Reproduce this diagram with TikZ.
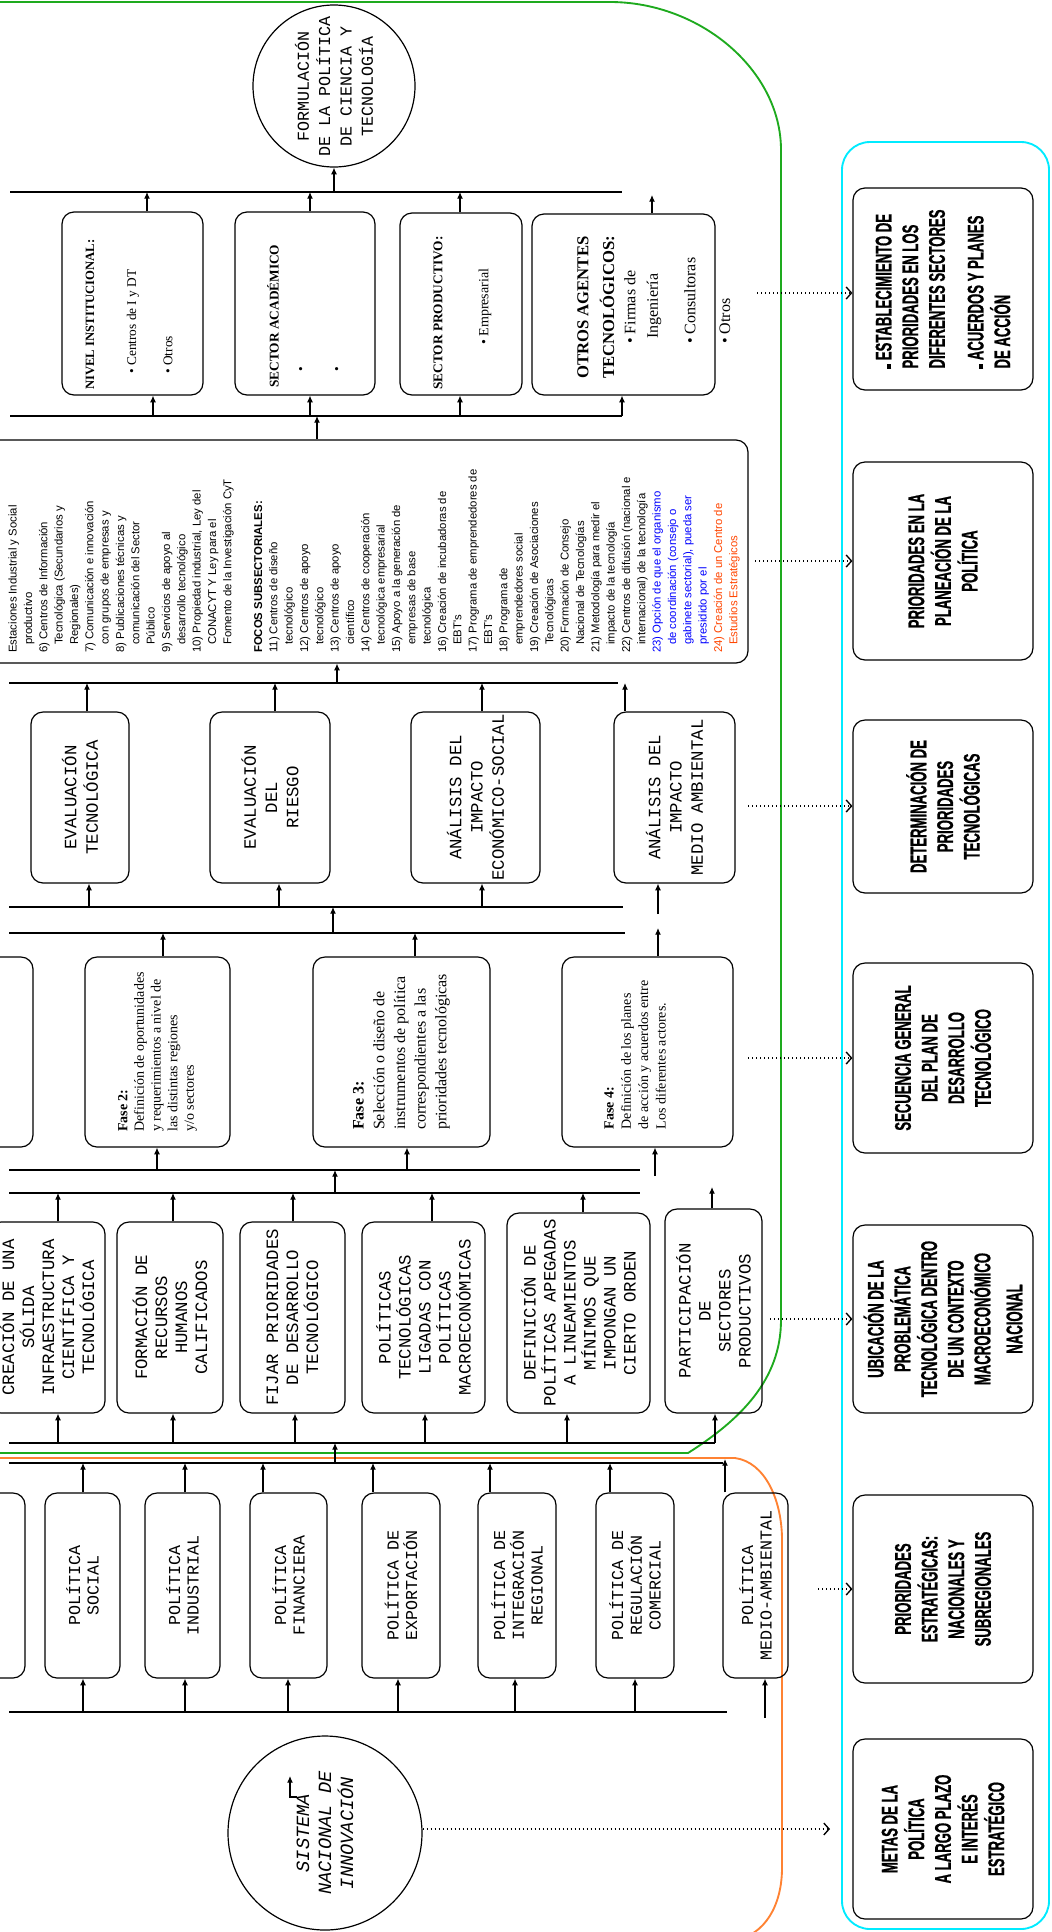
\documentclass[tikz,border=0pt]{standalone}
\usepackage{fontspec}
\setmainfont{Liberation Serif}
\newfontfamily\monof{Liberation Mono}
\newfontfamily\condf[FakeStretch=0.58,FakeBold=0.8]{Liberation Sans}
\newfontfamily\lsans{Liberation Sans}
\usetikzlibrary{arrows.meta}
\definecolor{cyanl}{RGB}{0,235,255}
\definecolor{grn}{RGB}{30,170,30}
\definecolor{orng}{RGB}{255,130,50}
\definecolor{ored}{RGB}{255,70,0}
\definecolor{blu}{RGB}{0,0,255}
\newcommand{\RBox}[7][]{\node[bx,minimum width={((#6)-(#4))*0.75pt},minimum height={((#5)-(#3))*0.75pt},#1] (#2) at ({((#3)+(#5))/2},{((#4)+(#6))/2}) {#7};}
\begin{document}
\begin{tikzpicture}[x=0.75pt,y=-0.75pt,
 bx/.style={draw,line width=0.9pt,rounded corners=9pt,rotate=90,inner sep=1pt,align=center},
 fA/.style={font=\monof\fontsize{12.5}{14}\selectfont},
 fB/.style={font=\monof\fontsize{13}{15}\selectfont},
 fD/.style={font=\monof\fontsize{13}{16}\selectfont},
 fR/.style={font=\condf\bfseries\fontsize{17}{20}\selectfont},
 rt/.style={rotate=90,anchor=west,inner sep=0pt},
 arr/.style={line width=0.9pt,-{Latex[length=5pt,width=4.5pt]}},
 bus/.style={line width=0.9pt},
 dotarr/.style={line width=1pt,dash pattern=on 1pt off 2pt,-{Straight Barb[length=4pt,width=9pt]}}]
\useasboundingbox (0,0) rectangle (1051,1932);
\fill[white] (0,0) rectangle (1051,1932);

% coloured frames
\draw[grn,line width=1.4pt] (-5,1453) -- (688,1453) .. controls (740,1420) and (781,1380) .. (781,1320) -- (781,150) .. controls (781,70) and (700,2) .. (610,2) -- (-5,2);
\draw[orng,line width=1.4pt] (-5,1458) -- (735,1458) .. controls (765,1462) and (782,1500) .. (782,1540) -- (782,1868) .. controls (782,1905) and (765,1935) .. (735,1940);
\draw[cyanl,line width=1.4pt,rounded corners=21pt] (842,142) rectangle (1049,1929);

% top circle
\node[circle,draw,line width=0.9pt,minimum size={162*0.75pt},inner sep=0pt,rotate=90,align=center,font=\monof\fontsize{12.5}{16}\selectfont] (form) at (334,86) {FORMULACIÓN\\DE LA POLÍTICA\\DE CIENCIA Y\\TECNOLOGÍA};

% row F
\RBox{nivel}{62}{212}{203}{395}{}
\RBox{acad}{235}{212}{375}{395}{}
\RBox{prod}{400}{213}{522}{395}{}
\RBox{otros}{532}{214}{715}{395}{}
\node[rt,font=\bfseries\fontsize{9.5}{10}\selectfont] (nivT) at (90,390) {NIVEL INSTITUCIONAL:};
\node[rt,font=\fontsize{10}{12}\selectfont] (niv1) at (133,374) {• Centros de I y DT};
\node[rt,font=\fontsize{10}{12}\selectfont] (niv2) at (168,374) {• Otros};
\node[rt,font=\bfseries\fontsize{10}{10}\selectfont] (acaT) at (273,388) {SECTOR ACADÉMICO};
\node[rt,font=\fontsize{10}{12}\selectfont] (aca1) at (302,372) {•};
\node[rt,font=\fontsize{10}{12}\selectfont] (aca2) at (338,372) {•};
\node[rt,font=\bfseries\fontsize{10}{10}\selectfont] (proT) at (438,390) {SECTOR PRODUCTIVO:};
\node[rt,font=\fontsize{10.5}{12}\selectfont] (pro1) at (485,345) {• Empresarial};
\node[rt,font=\bfseries\fontsize{12.5}{14}\selectfont] (otrT1) at (583,379) {OTROS AGENTES};
\node[rt,font=\bfseries\fontsize{12.5}{14}\selectfont] (otrT2) at (607,379) {TECNOLÓGICOS:};
\node[rt,font=\fontsize{12}{13}\selectfont] (otr1) at (630,344) {• Firmas de};
\node[rt,font=\fontsize{12}{13}\selectfont] (otr1b) at (654,339) {Ingeniería};
\node[rt,font=\fontsize{12}{13}\selectfont] (otr2) at (690,344) {• Consultoras};
\node[rt,font=\fontsize{12}{13}\selectfont] (otr3) at (725,344) {• Otros};

% list box
\RBox{lst}{-20}{440}{748}{663}{}
\node[rotate=90,anchor=south west,align=left,inner sep=0pt,font=\lsans\fontsize{8.5}{11.5}\selectfont] (lstT) at (740,653) {Estaciones Industrial y Social\\
\hspace*{6pt}productivo\\
6) Centros de Información\\
\hspace*{6pt}Tecnológica (Secundarios y\\
\hspace*{6pt}Regionales)\\
7) Comunicación e innovación\\
\hspace*{6pt}con grupos de empresas y\\
8) Publicaciones técnicas y\\
\hspace*{6pt}comunicación del Sector\\
\hspace*{6pt}Público\\
9) Servicios de apoyo al\\
\hspace*{6pt}desarrollo tecnológico\\
10) Propiedad industrial, Ley del\\
\hspace*{6pt}CONACYT Y Ley para el\\
\hspace*{6pt}Fomento de la Investigación CyT\\[11.5pt]
\textbf{FOCOS SUBSECTORIALES:}\\
11) Centros de diseño\\
\hspace*{6pt}tecnológico\\
12) Centros de apoyo\\
\hspace*{6pt}tecnológico\\
13) Centros de apoyo\\
\hspace*{6pt}científico\\
14) Centros de cooperación\\
\hspace*{6pt}tecnológica empresarial\\
15) Apoyo a la generación de\\
\hspace*{6pt}empresas de base\\
\hspace*{6pt}tecnológica\\
16) Creación de incubadoras de\\
\hspace*{6pt}EBT's\\
17) Programa de emprendedores de\\
\hspace*{6pt}EBT's\\
18) Programa de\\
\hspace*{6pt}emprendedores social\\
19) Creación de Asociaciones\\
\hspace*{6pt}Tecnológicas\\
20) Formación de Consejo\\
\hspace*{6pt}Nacional de Tecnologías\\
21) Metodología para medir el\\
\hspace*{6pt}impacto de la tecnología\\
22) Centros de difusión (nacional e\\
\hspace*{6pt}internacional) de la tecnología\\
\textcolor{blu}{23) Opción de que el organismo}\\
\textcolor{blu}{\hspace*{6pt}de coordinación (consejo o}\\
\textcolor{blu}{\hspace*{6pt}gabinete sectorial), pueda ser}\\
\textcolor{blu}{\hspace*{6pt}presidido por el}\\
\textcolor{ored}{24) Creación de un Centro de}\\
\textcolor{ored}{\hspace*{6pt}Estudios Estratégicos}};

% row D
\RBox[fD]{evt}{31}{712}{129}{883}{EVALUACIÓN\\TECNOLÓGICA}
\RBox[fD]{evr}{210}{712}{330}{883}{EVALUACIÓN\\DEL\\RIESGO}
\RBox[fD]{aie}{411}{712}{540}{883}{ANÁLISIS DEL\\IMPACTO\\ECONÓMICO-SOCIAL}
\RBox[fD]{aim}{614}{712}{735}{883}{ANÁLISIS DEL\\IMPACTO\\MEDIO AMBIENTAL}

% row C (fases)
\RBox{f1}{-130}{957}{33}{1147}{}
\RBox[font=\fontsize{10.5}{12.5}\selectfont,align=left]{f2}{85}{957}{230}{1147}{\textbf{Fase 2:}\\Definición de oportunidades\\y requerimientos a nivel de\\las distintas regiones\\y/o sectores}
\RBox[font=\fontsize{12}{15.5}\selectfont,align=left]{f3}{313}{957}{490}{1147}{\textbf{Fase 3:}\\Selección o diseño de\\instrumentos de política\\correspondientes a las\\prioridades tecnológicas}
\RBox{f4}{562}{957}{733}{1147}{}
\node[rotate=90,align=left,inner sep=0pt,font=\fontsize{10.5}{13}\selectfont] (f4T) at (635,1055) {\textbf{Fase 4:}\\Definición de los planes\\de acción y acuerdos entre\\Los diferentes actores.};

% row B
\RBox[fB]{crea}{-11}{1222}{105}{1413}{CREACIÓN DE UNA\\SÓLIDA\\INFRAESTRUCTURA\\CIENTÍFICA Y\\TECNOLÓGICA}
\RBox[fB]{formr}{117}{1222}{223}{1413}{FORMACIÓN DE\\RECURSOS\\HUMANOS\\CALIFICADOS}
\RBox[fB]{fijar}{240}{1222}{345}{1413}{FIJAR PRIORIDADES\\DE DESARROLLO\\TECNOLÓGICO}
\RBox[fB]{poltec}{362}{1222}{485}{1413}{POLÍTICAS\\TECNOLÓGICAS\\LIGADAS CON\\POLÍTICAS\\MACROECONÓMICAS}
\RBox[fB]{defin}{507}{1213}{650}{1413}{DEFINICIÓN DE\\POLÍTICAS APEGADAS\\A LINEAMIENTOS\\MÍNIMOS QUE\\IMPONGAN UN\\CIERTO ORDEN}
\RBox[fB]{partic}{665}{1209}{762}{1413}{PARTICIPACIÓN\\DE\\SECTORES\\PRODUCTIVOS}

% row A
\RBox{pa0}{-60}{1493}{25}{1678}{}
\RBox[fA]{psoc}{45}{1493}{120}{1678}{POLÍTICA\\SOCIAL}
\RBox[fA]{pind}{145}{1493}{220}{1678}{POLÍTICA\\INDUSTRIAL}
\RBox[fA]{pfin}{250}{1493}{327}{1678}{POLÍTICA\\FINANCIERA}
\RBox[fA]{pexp}{362}{1493}{440}{1678}{POLÍTICA DE\\EXPORTACIÓN}
\RBox[fA]{pint}{478}{1493}{556}{1678}{POLÍTICA DE\\INTEGRACIÓN\\REGIONAL}
\RBox[fA]{preg}{596}{1493}{674}{1678}{POLÍTICA DE\\REGULACIÓN\\COMERCIAL}
\RBox[fA]{pmed}{723}{1493}{788}{1678}{POLÍTICA\\MEDIO-AMBIENTAL}

% bottom circle
\node[circle,draw,line width=0.9pt,minimum size={194*0.75pt},inner sep=0pt,rotate=90,align=center,font=\monof\itshape\fontsize{14}{16.5}\selectfont] (sni) at (325,1833) {SISTEMA\\NACIONAL DE\\INNOVACIÓN};
\coordinate (sa1) at (297,1797); \coordinate (sa2) at (290,1797); \coordinate (sa3) at (290,1776);
\draw[arr] (sa1) -- (sa2) -- (sa3);

% right panel boxes
\RBox[fR,align=left]{r1}{853}{188}{1033}{390}{\rule{3.5pt}{3.5pt} ESTABLECIMIENTO DE\\PRIORIDADES EN LOS\\DIFERENTES SECTORES\\[9pt]\rule{3.5pt}{3.5pt} ACUERDOS Y PLANES\\DE ACCIÓN}
\RBox[fR]{r2}{853}{462}{1033}{660}{PRIORIDADES EN LA\\PLANEACIÓN DE LA\\POLÍTICA}
\RBox[fR]{r3}{853}{720}{1033}{893}{DETERMINACIÓN DE\\PRIORIDADES\\TECNOLÓGICAS}
\RBox[fR]{r4}{853}{963}{1033}{1153}{SECUENCIA GENERAL\\DEL PLAN DE\\DESARROLLO\\TECNOLÓGICO}
\RBox[fR]{r5}{853}{1225}{1033}{1413}{UBICACIÓN DE LA\\PROBLEMÁTICA\\TECNOLÓGICA DENTRO\\DE UN CONTEXTO\\MACROECONÓMICO\\[4pt]NACIONAL}
\RBox[fR]{r6}{853}{1495}{1033}{1683}{PRIORIDADES\\ESTRATÉGICAS:\\NACIONALES Y\\SUBREGIONALES}
\RBox[fR]{r7}{853}{1739}{1033}{1919}{METAS DE LA\\POLÍTICA\\A LARGO PLAZO\\E INTERÉS\\ESTRATÉGICO}

% dotted arrows
\coordinate (d1) at (757,293); \draw[dotarr] (d1) -- (d1 -| r1.north);
\coordinate (d2) at (755,561); \draw[dotarr] (d2) -- (d2 -| r2.north);
\coordinate (d3) at (748,806); \draw[dotarr] (d3) -- (d3 -| r3.north);
\coordinate (d4) at (748,1058); \draw[dotarr] (d4) -- (d4 -| r4.north);
\coordinate (d5) at (770,1319); \draw[dotarr] (d5) -- (d5 -| r5.north);
\coordinate (d6) at (818,1589); \draw[dotarr] (d6) -- (d6 -| r6.north);
\coordinate (d7) at (830,1829); \draw[dotarr] (sni.south |- d7) -- (d7);

% buses
\coordinate (B1a) at (10,192); \coordinate (B1b) at (622,192);
\coordinate (B2a) at (10,416); \coordinate (B2b) at (622,416);
\coordinate (B3a) at (9,683); \coordinate (B3b) at (618,683);
\coordinate (B4a) at (9,907); \coordinate (B4b) at (623,907);
\coordinate (B5a) at (9,933); \coordinate (B5b) at (625,933);
\coordinate (B6a) at (9,1170); \coordinate (B6b) at (640,1170);
\coordinate (B7a) at (9,1193); \coordinate (B7b) at (640,1193);
\coordinate (B8a) at (9,1443); \coordinate (B8b) at (715,1443);
\coordinate (B9a) at (9,1463); \coordinate (B9b) at (723,1463);
\coordinate (B10a) at (9,1712); \coordinate (B10b) at (727,1712);
\foreach \i in {1,...,10} {\draw[bus] (B\i a) -- (B\i b);}

% arrows top group
\draw[arr] (B1a -| form.west) -- (form.west);
\draw[arr] (147,0 |- nivel.east) -- (147,0 |- B1a);
\draw[arr] (310,0 |- acad.east) -- (310,0 |- B1a);
\draw[arr] (460,0 |- prod.east) -- (460,0 |- B1a);
\coordinate (oup) at (652,195);
\draw[arr] (oup |- otros.east) -- (oup);
\draw[arr] (B2b) -- (B2b |- otros.west);
\draw[arr] (153,0 |- B2a) -- (153,0 |- nivel.west);
\draw[arr] (310,0 |- B2a) -- (310,0 |- acad.west);
\draw[arr] (460,0 |- B2a) -- (460,0 |- prod.west);
\draw[arr] (317,0 |- lst.east) -- (317,0 |- B2a);

% row D arrows
\draw[arr] (337,0 |- B3a) -- (337,0 |- lst.west);
\draw[arr] (87,0 |- evt.east) -- (87,0 |- B3a);
\draw[arr] (275,0 |- evr.east) -- (275,0 |- B3a);
\draw[arr] (482,0 |- aie.east) -- (482,0 |- B3a);
\draw[arr] (625,0 |- aim.east) -- (625,0 |- B3a);
\draw[arr] (89,0 |- B4a) -- (89,0 |- evt.west);
\draw[arr] (279,0 |- B4a) -- (279,0 |- evr.west);
\draw[arr] (482,0 |- B4a) -- (482,0 |- aie.west);
\coordinate (aimlo) at (658,914);
\draw[arr] (aimlo) -- (aimlo |- aim.west);
\draw[arr] (333,0 |- B5a) -- (333,0 |- B4a);

% fase arrows
\draw[arr] (163,0 |- f2.east) -- (163,0 |- B5a);
\draw[arr] (415,0 |- f3.east) -- (415,0 |- B5a);
\coordinate (f4up) at (658,928);
\draw[arr] (f4up |- f4.east) -- (f4up);
\draw[arr] (157,0 |- B6a) -- (157,0 |- f2.west);
\draw[arr] (407,0 |- B6a) -- (407,0 |- f3.west);
\coordinate (f4lo) at (655,1176);
\draw[arr] (f4lo) -- (f4lo |- f4.west);
\draw[arr] (335,0 |- B7a) -- (335,0 |- B6a);

% row B arrows
\draw[arr] (58,0 |- crea.east) -- (58,0 |- B7a);
\draw[arr] (173,0 |- formr.east) -- (173,0 |- B7a);
\draw[arr] (293,0 |- fijar.east) -- (293,0 |- B7a);
\draw[arr] (432,0 |- poltec.east) -- (432,0 |- B7a);
\draw[arr] (583,0 |- defin.east) -- (583,0 |- B7a);
\coordinate (pup) at (712,1187);
\draw[arr] (pup |- partic.east) -- (pup);
\draw[arr] (58,0 |- B8a) -- (58,0 |- crea.west);
\draw[arr] (173,0 |- B8a) -- (173,0 |- formr.west);
\draw[arr] (295,0 |- B8a) -- (295,0 |- fijar.west);
\draw[arr] (425,0 |- B8a) -- (425,0 |- poltec.west);
\draw[arr] (567,0 |- B8a) -- (567,0 |- defin.west);
\draw[arr] (B8b) -- (B8b |- partic.west);
\draw[arr] (335,0 |- B9a) -- (335,0 |- B8a);

% row A arrows
\draw[arr] (83,0 |- psoc.east) -- (83,0 |- B9a);
\draw[arr] (185,0 |- pind.east) -- (185,0 |- B9a);
\draw[arr] (263,0 |- pfin.east) -- (263,0 |- B9a);
\draw[arr] (373,0 |- pexp.east) -- (373,0 |- B9a);
\draw[arr] (490,0 |- pint.east) -- (490,0 |- B9a);
\draw[arr] (610,0 |- preg.east) -- (610,0 |- B9a);
\coordinate (mup) at (725,1459);
\draw[arr] (mup |- pmed.east) -- (mup);
\draw[arr] (83,0 |- B10a) -- (83,0 |- psoc.west);
\draw[arr] (185,0 |- B10a) -- (185,0 |- pind.west);
\draw[arr] (288,0 |- B10a) -- (288,0 |- pfin.west);
\draw[arr] (398,0 |- B10a) -- (398,0 |- pexp.west);
\draw[arr] (515,0 |- B10a) -- (515,0 |- pint.west);
\draw[arr] (635,0 |- B10a) -- (635,0 |- preg.west);
\coordinate (mlo) at (765,1718);
\draw[arr] (mlo) -- (mlo |- pmed.west);
\end{tikzpicture}
\end{document}
